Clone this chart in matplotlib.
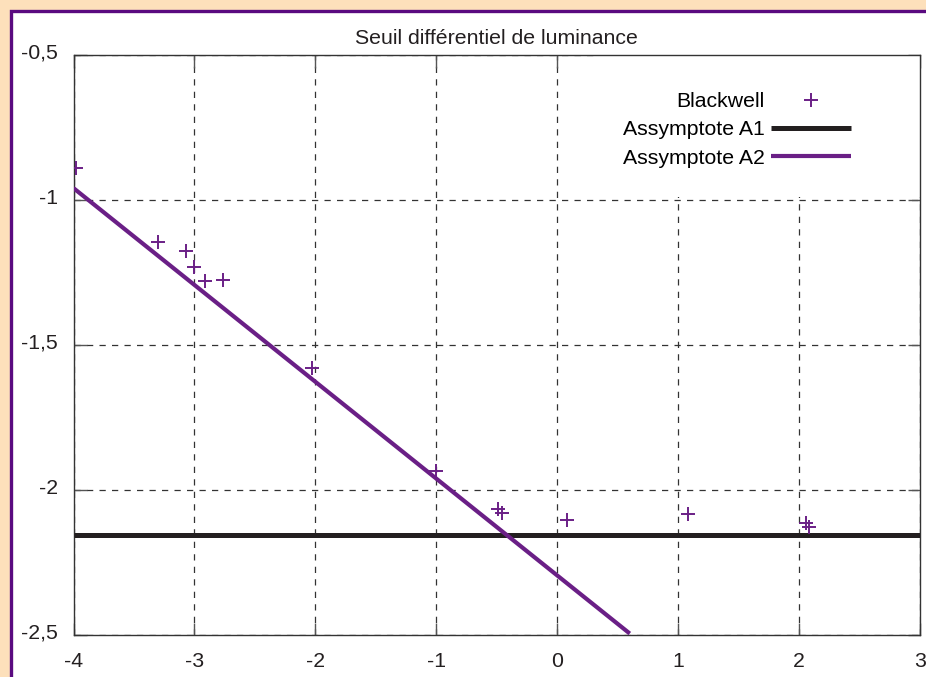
"""
Seuil differentiel de luminance: Blackwell data with two asymptotes.
"""
import matplotlib
matplotlib.use("Agg")
from matplotlib import pyplot as plt
from matplotlib.patches import Rectangle
from matplotlib.transforms import ScaledTranslation

# Blackwell measurements
bw_x = [-3.98, -3.30, -3.07, -3.00, -2.91, -2.76, -2.03, -1.00,
        -0.49, -0.46, 0.08, 1.08, 2.06, 2.08]
bw_y = [-0.89, -1.145, -1.176, -1.230, -1.279, -1.276, -1.579, -1.934,
        -2.066, -2.079, -2.103, -2.083, -2.115, -2.128]

# asymptotes
a1_x = [-4.0, 3.0]
a1_y = [-2.155, -2.155]
a2_x = [-4.0, 0.60]
a2_y = [-0.959, -2.495]

x_ticks = [-4, -3, -2, -1, 0, 1, 2, 3]
x_labels = ["-4", "-3", "-2", "-1", "0", "1", "2", "3"]
y_ticks = [-2.5, -2.0, -1.5, -1.0, -0.5]
y_labels = ["-2,5", "-2", "-1,5", "-1", "-0,5"]

purple = "#6a1f86"
border = "#5a0a80"
fs = 15.3

plt.rcParams['font.family'] = ['Liberation Sans', 'DejaVu Sans']

W, H = 926, 677
fig = plt.figure(figsize=(W / 100, H / 100), dpi=100)
fig.patch.set_facecolor("#fde0bb")

# white panel with purple frame (cut on right and bottom)
fig.add_artist(Rectangle((11 / W, -0.1), 1.1, 1.1 - 10.5 / H,
                         transform=fig.transFigure, facecolor="white",
                         edgecolor=border, linewidth=2.4, clip_on=False,
                         zorder=0))

ax = fig.add_axes([73.5 / W, 42 / H, (920 - 73.5) / W, (635 - 55) / H])
ax.set_facecolor("white")
ax.set_axisbelow(True)

# white area behind the legend hides the grid there
ax.add_patch(Rectangle((0.62, 0.755), 0.38, 0.245, transform=ax.transAxes,
                       facecolor="white", edgecolor="none", zorder=1))

ax.plot(a1_x, a1_y, color="#231f20", linewidth=3.6, label="Assymptote A1",
        solid_capstyle="butt", zorder=3)
ax.plot(a2_x, a2_y, color=purple, linewidth=3.0, label="Assymptote A2",
        solid_capstyle="butt", zorder=3)
ax.plot(bw_x, bw_y, linestyle="none", marker="+", markersize=10.5,
        markeredgewidth=1.4, color=purple, label="Blackwell", zorder=4)

ax.set_xlim(-4, 3)
ax.set_ylim(-2.5, -0.5)
ax.set_xticks(x_ticks)
ax.set_xticklabels(x_labels)
ax.set_yticks(y_ticks)
ax.set_yticklabels(y_labels)
ax.tick_params(direction="in", length=9, width=1, colors="#555555",
               labelcolor="#231f20", labelsize=fs, top=True, right=True)
ax.tick_params(axis="y", pad=11)
ax.tick_params(axis="x", pad=12)
# y labels sit a little above their grid lines
shift = ScaledTranslation(0, 4 / 100, fig.dpi_scale_trans)
for lbl in ax.get_yticklabels():
    lbl.set_transform(lbl.get_transform() + shift)
ax.grid(True, color="#333333", linestyle=(0, (5, 5)), linewidth=0.9)
for s in ax.spines.values():
    s.set_color("#333333")
    s.set_linewidth(1.0)

ax.set_title("Seuil différentiel de luminance", fontsize=fs,
             color="#231f20", pad=8)

handles, labels = ax.get_legend_handles_labels()
order = [2, 0, 1]
leg = ax.legend([handles[i] for i in order], [labels[i] for i in order],
                loc="upper right", bbox_to_anchor=(0.9185, 0.936),
                frameon=False, markerfirst=False, fontsize=fs,
                handlelength=3.76, handletextpad=0.3, labelspacing=0.44,
                borderpad=0, borderaxespad=0)

fig.savefig("out.png", dpi=100, facecolor=fig.get_facecolor())
